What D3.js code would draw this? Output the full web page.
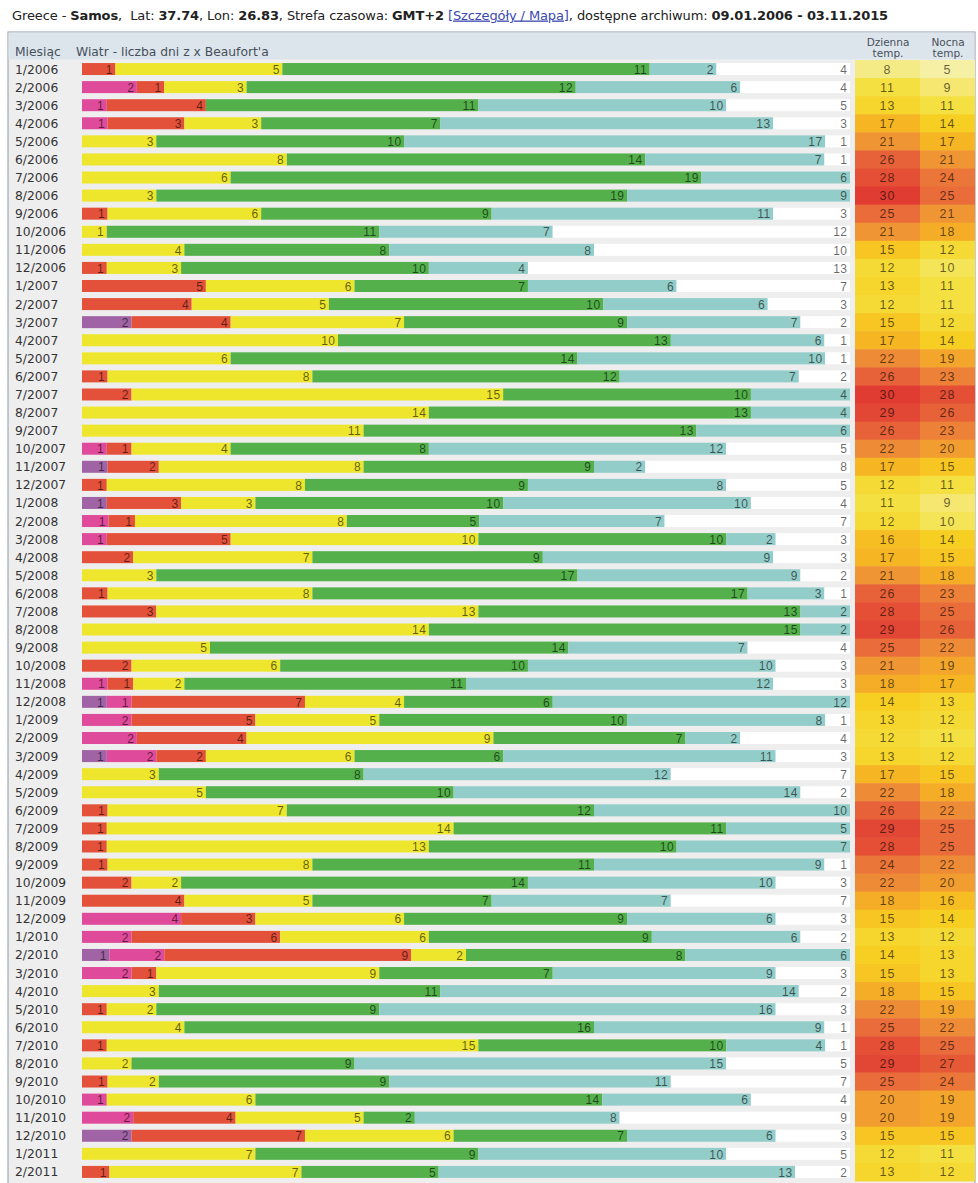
<!DOCTYPE html>
<html>
<head>
<meta charset="utf-8">
<script src="https://cdn.jsdelivr.net/npm/d3@7"></script>
<style>
  body { margin: 0; background: #fff; }
  svg { display: block; }
</style>
</head>
<body>
<div id="vis"></div>
<script>
const width = 978;
const height = 1183;

// months shown in the table
const months = [
  "1/2006", "2/2006", "3/2006", "4/2006", "5/2006", "6/2006", "7/2006", "8/2006", "9/2006", "10/2006", "11/2006", "12/2006",
  "1/2007", "2/2007", "3/2007", "4/2007", "5/2007", "6/2007", "7/2007", "8/2007", "9/2007", "10/2007", "11/2007", "12/2007",
  "1/2008", "2/2008", "3/2008", "4/2008", "5/2008", "6/2008", "7/2008", "8/2008", "9/2008", "10/2008", "11/2008", "12/2008",
  "1/2009", "2/2009", "3/2009", "4/2009", "5/2009", "6/2009", "7/2009", "8/2009", "9/2009", "10/2009", "11/2009", "12/2009",
  "1/2010", "2/2010", "3/2010", "4/2010", "5/2010", "6/2010", "7/2010", "8/2010", "9/2010", "10/2010", "11/2010", "12/2010",
  "1/2011", "2/2011",
];

// wind classes, strongest first (order of the segments in each bar)
const windClasses = ["bft7", "bft6", "bft5", "bft4", "bft3", "bft2", "bft01"];
const windColors = ["#a064a6", "#e04a9a", "#e4513a", "#ede62c", "#53b04a", "#93cdc9", "#ffffff"];

// days per wind class, same order as windClasses
const windDays = [
  [0, 0, 1, 5, 11, 2, 4], [0, 2, 1, 3, 12, 6, 4], [0, 1, 4, 0, 11, 10, 5], [0, 1, 3, 3, 7, 13, 3],
  [0, 0, 0, 3, 10, 17, 1], [0, 0, 0, 8, 14, 7, 1], [0, 0, 0, 6, 19, 6, 0], [0, 0, 0, 3, 19, 9, 0],
  [0, 0, 1, 6, 9, 11, 3], [0, 0, 0, 1, 11, 7, 12], [0, 0, 0, 4, 8, 8, 10], [0, 0, 1, 3, 10, 4, 13],
  [0, 0, 5, 6, 7, 6, 7], [0, 0, 4, 5, 10, 6, 3], [2, 0, 4, 7, 9, 7, 2], [0, 0, 0, 10, 13, 6, 1],
  [0, 0, 0, 6, 14, 10, 1], [0, 0, 1, 8, 12, 7, 2], [0, 0, 2, 15, 10, 4, 0], [0, 0, 0, 14, 13, 4, 0],
  [0, 0, 0, 11, 13, 6, 0], [0, 1, 1, 4, 8, 12, 5], [1, 0, 2, 8, 9, 2, 8], [0, 0, 1, 8, 9, 8, 5],
  [1, 0, 3, 3, 10, 10, 4], [0, 1, 1, 8, 5, 7, 7], [0, 1, 5, 10, 10, 2, 3], [0, 0, 2, 7, 9, 9, 3],
  [0, 0, 0, 3, 17, 9, 2], [0, 0, 1, 8, 17, 3, 1], [0, 0, 3, 13, 13, 2, 0], [0, 0, 0, 14, 15, 2, 0],
  [0, 0, 0, 5, 14, 7, 4], [0, 0, 2, 6, 10, 10, 3], [0, 1, 1, 2, 11, 12, 3], [1, 1, 7, 4, 6, 12, 0],
  [0, 2, 5, 5, 10, 8, 1], [0, 2, 4, 9, 7, 2, 4], [1, 2, 2, 6, 6, 11, 3], [0, 0, 0, 3, 8, 12, 7],
  [0, 0, 0, 5, 10, 14, 2], [0, 0, 1, 7, 12, 10, 0], [0, 0, 1, 14, 11, 5, 0], [0, 0, 1, 13, 10, 7, 0],
  [0, 0, 1, 8, 11, 9, 1], [0, 0, 2, 2, 14, 10, 3], [0, 0, 4, 5, 7, 7, 7], [0, 4, 3, 6, 9, 6, 3],
  [0, 2, 6, 6, 9, 6, 2], [1, 2, 9, 2, 8, 6, 0], [0, 2, 1, 9, 7, 9, 3], [0, 0, 0, 3, 11, 14, 2],
  [0, 0, 1, 2, 9, 16, 3], [0, 0, 0, 4, 16, 9, 1], [0, 0, 1, 15, 10, 4, 1], [0, 0, 0, 2, 9, 15, 5],
  [0, 0, 1, 2, 9, 11, 7], [0, 1, 0, 6, 14, 6, 4], [0, 2, 4, 5, 2, 8, 9], [2, 0, 7, 6, 7, 6, 3],
  [0, 0, 0, 7, 9, 10, 5], [0, 0, 1, 7, 5, 13, 2],
];

const dayTemp = [
  8, 11, 13, 17, 21, 26, 28, 30, 25, 21, 15, 12,
  13, 12, 15, 17, 22, 26, 30, 29, 26, 22, 17, 12,
  11, 12, 16, 17, 21, 26, 28, 29, 25, 21, 18, 14,
  13, 12, 13, 17, 22, 26, 29, 28, 24, 22, 18, 15,
  13, 14, 15, 18, 22, 25, 28, 29, 25, 20, 20, 15,
  12, 13,
];
const nightTemp = [
  5, 9, 11, 14, 17, 21, 24, 25, 21, 18, 12, 10,
  11, 11, 12, 14, 19, 23, 28, 26, 23, 20, 15, 11,
  9, 10, 14, 15, 18, 23, 25, 26, 22, 19, 17, 13,
  12, 11, 12, 15, 18, 22, 25, 25, 22, 20, 16, 14,
  12, 13, 13, 15, 19, 22, 25, 27, 24, 19, 19, 15,
  11, 12,
];

const tempStops = [5, 8, 11, 14, 17, 21, 25, 30];
const tempColors = ["#f6f0a4", "#f5eb86", "#f4e040", "#f7cf22", "#f6b523", "#f09534", "#e96c3a", "#e03c32"];

const rows = months.map((m, i) => {
  let acc = 0;
  const segs = windDays[i].map((v, k) => {
    const s = { cls: windClasses[k], color: windColors[k], value: v, x0: acc, x1: acc + v };
    acc += v;
    return s;
  });
  return { month: m, segs: segs, total: acc, day: dayTemp[i], night: nightTemp[i] };
});

var svg = d3
  .select("#vis")
  .append("svg")
  .attr("width", width)
  .attr("height", height);

const table = { left: 8, right: 975, top: 32, headBottom: 60 };
const barLeft = 82;
const barRight = 850;
const dayCol = [855, 920];
const nightCol = [920, 975];
const labelFont = "DejaVu Sans, Verdana, sans-serif";

var y = d3
  .scaleBand()
  .domain(months)
  .range([60, 60 + months.length * 18.08])
  .paddingInner(0);

var tempScale = d3.scaleLinear().domain(tempStops).range(tempColors).clamp(true);

//title line
const title = svg
  .append("text")
  .attr("x", 12)
  .attr("y", 19.5)
  .attr("font-family", labelFont)
  .attr("font-size", 13)
  .attr("fill", "#222");

const titleParts = [
  ["Greece - ", false], ["Samos", true], [",  Lat: ", false], ["37.74", true],
  [", Lon: ", false], ["26.83", true], [", Strefa czasowa: ", false], ["GMT+2", true],
  [" ", false], ["[Szczegóły / Mapa]", false, true], [", dostępne archiwum: ", false],
  ["09.01.2006 - 03.11.2015", true],
];
titleParts.forEach((p) => {
  const t = title
    .append("tspan")
    .attr("font-weight", p[1] ? "bold" : "normal")
    .attr("xml:space", "preserve")
    .text(p[0]);
  if (p[2]) t.attr("fill", "#3a48b0").attr("text-decoration", "underline");
});
// stretch the title to the width it has in the original
const titleW = title.node().getComputedTextLength();
const nChars = titleParts.map((p) => p[0]).join("").length;
title.attr("letter-spacing", (876 - titleW) / nChars);

// table body background
svg
  .append("rect")
  .attr("x", table.left)
  .attr("y", table.top)
  .attr("width", table.right - table.left)
  .attr("height", height - table.top + 2)
  .attr("fill", "#eeeeef")
  .attr("stroke", "#8d9aa6");

// header
svg
  .append("rect")
  .attr("x", table.left + 0.5)
  .attr("y", table.top + 0.5)
  .attr("width", table.right - table.left - 1)
  .attr("height", table.headBottom - table.top - 1)
  .attr("fill", "#dde5ec");

const head = svg
  .append("g")
  .attr("font-family", labelFont)
  .attr("font-size", 12.3)
  .attr("fill", "#46505a");

head.append("text").attr("x", 15).attr("y", 55.5).text("Miesiąc");
head.append("text").attr("x", 76).attr("y", 55.5).text("Wiatr - liczba dni z x Beaufort'a");

// two-line headers of the temperature columns
const tempHead = head
  .selectAll("g.th")
  .data([
    { x: 888, lines: ["Dzienna", "temp."] },
    { x: 948, lines: ["Nocna", "temp."] },
  ])
  .join("g")
  .attr("class", "th")
  .attr("font-size", 10.5)
  .attr("text-anchor", "middle");

tempHead
  .selectAll("text")
  .data((d) => d.lines.map((l) => ({ x: d.x, l: l })))
  .join("text")
  .attr("x", (d) => d.x)
  .attr("y", (d, i) => 45.5 + i * 11)
  .text((d) => d.l);

// one group per month
const rowG = svg
  .append("g")
  .selectAll("g")
  .data(rows)
  .join("g")
  .attr("class", "row")
  .attr("transform", (d) => `translate(0,${y(d.month)})`);

const bh = y.bandwidth();
const barH = 12;
const barTop = (bh - barH) / 2;

rowG
  .append("text")
  .attr("x", 15)
  .attr("y", bh / 2 + 4.5)
  .attr("font-family", labelFont)
  .attr("font-size", 12.3)
  .attr("fill", "#333")
  .text((d) => d.month);

// temperature cells
rowG
  .append("rect")
  .attr("x", dayCol[0])
  .attr("y", 0)
  .attr("width", dayCol[1] - dayCol[0])
  .attr("height", bh + 0.5)
  .attr("fill", (d) => tempScale(d.day));

rowG
  .append("rect")
  .attr("x", nightCol[0])
  .attr("y", 0)
  .attr("width", nightCol[1] - nightCol[0])
  .attr("height", bh + 0.5)
  .attr("fill", (d) => tempScale(d.night));

rowG
  .append("text")
  .attr("x", (dayCol[0] + dayCol[1]) / 2)
  .attr("y", bh / 2 + 4.5)
  .attr("text-anchor", "middle")
  .attr("font-family", "Liberation Sans, Arial, sans-serif")
  .attr("font-size", 12.5)
  .attr("letter-spacing", 1)
  .attr("fill", "#000")
  .attr("fill-opacity", 0.6)
  .text((d) => d.day);

rowG
  .append("text")
  .attr("x", (nightCol[0] + nightCol[1]) / 2)
  .attr("y", bh / 2 + 4.5)
  .attr("text-anchor", "middle")
  .attr("font-family", "Liberation Sans, Arial, sans-serif")
  .attr("font-size", 12.5)
  .attr("letter-spacing", 1)
  .attr("fill", "#000")
  .attr("fill-opacity", 0.6)
  .text((d) => d.night);

// wind bars, each month scaled to its own number of days
rowG.each(function (d) {
  const x = d3.scaleLinear().domain([0, d.total]).range([barLeft, barRight]);
  const g = d3.select(this);
  const segs = d.segs.filter((s) => s.value > 0);

  g.selectAll("rect.seg")
    .data(segs)
    .join("rect")
    .attr("class", "seg")
    .attr("x", (s) => x(s.x0))
    .attr("y", barTop)
    .attr("width", (s) => x(s.x1) - x(s.x0))
    .attr("height", barH)
    .attr("fill", (s) => s.color);

  g.selectAll("text.lbl")
    .data(segs)
    .join("text")
    .attr("class", "lbl")
    .attr("x", (s) => x(s.x1) - 2.5)
    .attr("y", barTop + barH - 1.3)
    .attr("text-anchor", "end")
    .attr("font-family", "Liberation Sans, Arial, sans-serif")
    .attr("font-size", 12)
    .attr("letter-spacing", 0.5)
    .attr("fill", "#000")
    .attr("fill-opacity", 0.6)
    .text((s) => s.value);
});
</script>
</body>
</html>
